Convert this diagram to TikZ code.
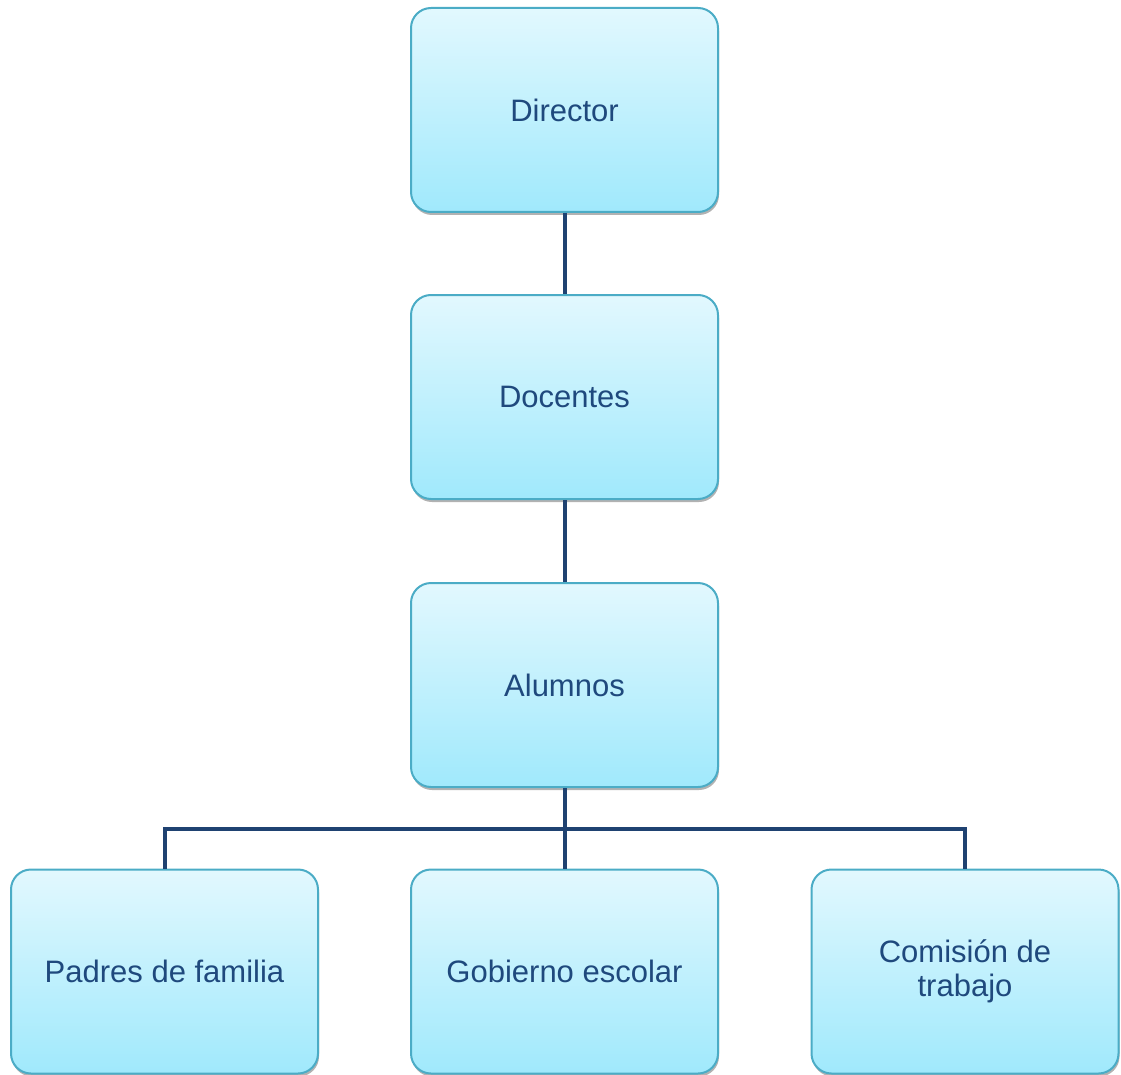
\documentclass[tikz,border=0pt]{standalone}
\usepackage{fontspec}
\setmainfont{Liberation Sans}
\usetikzlibrary{shadows}
\definecolor{boxline}{HTML}{4BACC6}
\definecolor{boxtop}{HTML}{E2F8FE}
\definecolor{boxbot}{HTML}{A0E9FC}
\definecolor{navy}{HTML}{1F4271}
\definecolor{txt}{HTML}{1F497D}
\tikzset{
  orgbox/.style={draw=boxline, line width=2pt, rounded corners=20pt,
    top color=boxtop, bottom color=boxbot,
    minimum width=307pt, minimum height=204pt, inner sep=0pt,
    text=txt, font=\fontsize{31}{34.5}\selectfont, align=center,
    drop shadow={shadow xshift=1pt, shadow yshift=-3pt, opacity=0.3, fill=black}},
  link/.style={draw=navy, line width=4pt}
}
\begin{document}
\begin{tikzpicture}[x=1pt,y=-1pt]
\useasboundingbox (0,0) rectangle (1121,1075);
\node[orgbox] (dir) at (564.5,110) {Director};
\node[orgbox] (doc) at (564.5,397) {Docentes};
\node[orgbox] (alu) at (564.5,685) {Alumnos};
\node[orgbox] (pad) at (164.5,971.5) {Padres de familia};
\node[orgbox] (gob) at (564.5,971.5) {Gobierno escolar};
\node[orgbox] (com) at (965,971.5) {Comisión de\\trabajo};
\coordinate (bar) at (564.5,829);
\draw[link] (dir.south) -- (doc.north);
\draw[link] (doc.south) -- (alu.north);
\draw[link] (alu.south) -- (gob.north);
\draw[link] (pad.north) |- (bar) -| (com.north);
\end{tikzpicture}
\end{document}
